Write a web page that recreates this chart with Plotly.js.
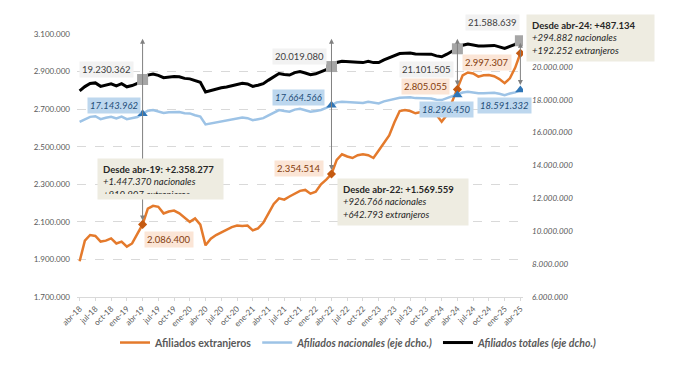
<!DOCTYPE html>
<html>
<head>
<meta charset="utf-8">
<script src="https://cdn.plot.ly/plotly-3.0.1.min.js"></script>
<style>html,body{margin:0;padding:0;background:#fff;}#chart{width:683px;height:374px;}</style>
</head>
<body>
<div id="chart"></div>
<script>
// ---- Data ----
const mesesNombres = ['ene','feb','mar','abr','may','jun','jul','ago','sep','oct','nov','dic'];
// categories: abr-18 .. abr-25 (monthly)
const categorias = [];
for (let k = 0; k < 85; k++) {
  const m = (3 + k) % 12;
  const y = 18 + Math.floor((3 + k) / 12);
  categorias.push(mesesNombres[m] + '-' + y);
}
const tickLabels = ['abr-18','jul-18','oct-18','ene-19','abr-19','jul-19','oct-19','ene-20','abr-20','jul-20','oct-20','ene-21','abr-21','jul-21','oct-21','ene-22','abr-22','jul-22','oct-22','ene-23','abr-23','jul-23','oct-23','ene-24','abr-24','jul-24','oct-24','ene-25','abr-25'];

const extranjeros = [1890000, 2000000, 2030000, 2025000, 1995000, 2000000, 2012000, 1985000, 1995000, 1968000, 1985000, 2040000, 2086400,
  2170000, 2185000, 2180000, 2145000, 2155000, 2160000, 2145000, 2120000, 2100000, 2118000, 2085000,
  1975000, 2010000, 2030000, 2045000, 2060000, 2072000, 2080000, 2078000, 2080000, 2055000, 2065000, 2095000,
  2145000, 2195000, 2225000, 2218000, 2235000, 2250000, 2265000, 2270000, 2250000, 2260000, 2300000, 2325000,
  2354514, 2430000, 2460000, 2448000, 2440000, 2455000, 2460000, 2455000, 2440000, 2480000, 2520000, 2560000,
  2630000, 2690000, 2695000, 2690000, 2678000, 2686000, 2690000, 2695000, 2670000, 2633000, 2670000, 2740000,
  2805055, 2880000, 2895000, 2890000, 2873000, 2880000, 2882000, 2875000, 2860000, 2838000, 2864000, 2920000, 2997307];

const nacionales = [16650000, 16800000, 16960000, 17000000, 16820000, 16900000, 16960000, 16860000, 16980000, 16820000, 16880000, 16950000, 17143962,
  17330000, 17380000, 17300000, 17200000, 17240000, 17250000, 17250000, 17180000, 17170000, 17060000, 16980000,
  16500000, 16560000, 16620000, 16680000, 16720000, 16780000, 16850000, 16920000, 16880000, 16760000, 16820000, 16880000,
  17050000, 17220000, 17370000, 17320000, 17270000, 17400000, 17450000, 17360000, 17270000, 17320000, 17380000, 17500000,
  17664566, 17840000, 17880000, 17860000, 17880000, 17820000, 17800000, 17880000, 17820000, 17780000, 17900000, 17980000,
  18060000, 18120000, 18140000, 18150000, 18100000, 18080000, 18080000, 18080000, 18000000, 17980000, 18100000, 18200000,
  18296450, 18440000, 18490000, 18430000, 18400000, 18390000, 18420000, 18430000, 18360000, 18280000, 18380000, 18450000, 18591332];

const totales = [18540000, 18800000, 18990000, 19025000, 18815000, 18900000, 18972000, 18845000, 18975000, 18788000, 18865000, 18990000, 19230362,
  19500000, 19565000, 19480000, 19345000, 19395000, 19410000, 19395000, 19300000, 19270000, 19178000, 19065000,
  18475000, 18570000, 18650000, 18725000, 18780000, 18852000, 18930000, 18998000, 18960000, 18815000, 18885000, 18975000,
  19195000, 19415000, 19595000, 19538000, 19505000, 19650000, 19715000, 19630000, 19520000, 19580000, 19680000, 19825000,
  20019080, 20270000, 20340000, 20308000, 20320000, 20275000, 20260000, 20335000, 20260000, 20260000, 20420000, 20540000,
  20690000, 20810000, 20835000, 20840000, 20778000, 20766000, 20770000, 20775000, 20670000, 20613000, 20770000, 20940000,
  21101505, 21320000, 21385000, 21320000, 21273000, 21270000, 21302000, 21305000, 21220000, 21118000, 21244000, 21370000, 21588639];

const hitos = ['abr-19', 'abr-22', 'abr-24', 'abr-25'];
const leftTicks = [1700000, 1900000, 2100000, 2300000, 2500000, 2700000, 2900000, 3100000];
const rightTicks = [6000000, 8000000, 10000000, 12000000, 14000000, 16000000, 18000000, 20000000];

// ---- Helpers ----
const fmt = n => String(n).replace(/\B(?=(\d{3})+(?!\d))/g, '.');
const hi = hitos.map(c => categorias.indexOf(c));
const last = hi[3];
const FONT = 'Lato, "Open Sans", sans-serif';

const traces = [
  {x: categorias, y: extranjeros, type: 'scatter', mode: 'lines', name: '<b>Afiliados extranjeros</b>',
   line: {color: '#E47A2C', width: 2.5}, yaxis: 'y'},
  {x: categorias, y: nacionales, type: 'scatter', mode: 'lines', name: '<b><i>Afiliados nacionales (eje dcho.)</i></b>',
   line: {color: '#9DC3E6', width: 2.5}, yaxis: 'y2'},
  {x: categorias, y: totales, type: 'scatter', mode: 'lines', name: '<b><i>Afiliados totales (eje dcho.)</i></b>',
   line: {color: '#000000', width: 3}, yaxis: 'y2'},
  {x: hitos, y: hi.map(i => totales[i]), type: 'scatter', mode: 'markers', showlegend: false, yaxis: 'y2',
   marker: {symbol: 'square', size: 11, color: '#A6A6A6'}},
  {x: hitos, y: hi.map(i => nacionales[i]), type: 'scatter', mode: 'markers', showlegend: false, yaxis: 'y2',
   marker: {symbol: 'triangle-up', size: 9, color: '#2E75B6'}},
  {x: hitos, y: hi.map(i => extranjeros[i]), type: 'scatter', mode: 'markers', showlegend: false, yaxis: 'y',
   marker: {symbol: 'diamond', size: 7, color: '#C55A11'}}
];

const annotations = [];
// vertical arrows
for (let k = 0; k < 3; k++) {
  const i = hi[k];
  annotations.push({x: categorias[i], y: extranjeros[i], xref: 'x', yref: 'y', ax: 0, ay: 3085000, ayref: 'y',
    text: ' ', font: {size: 1}, showarrow: true, arrowside: 'end+start', arrowhead: 2, startarrowhead: 2,
    arrowsize: 1, startarrowsize: 1, arrowwidth: 1, arrowcolor: '#808080', standoff: 4, startstandoff: 0});
}
annotations.push({x: categorias[last], y: nacionales[last], xref: 'x', yref: 'y2', ax: 0, ay: totales[last], ayref: 'y2',
  text: ' ', font: {size: 1}, showarrow: true, arrowside: 'end+start', arrowhead: 2, startarrowhead: 2,
  arrowsize: 1, startarrowsize: 1, arrowwidth: 1, arrowcolor: '#808080', standoff: 5, startstandoff: 0});

// value labels (paper positions)
const labelPos = {
  tot: [[106.5, 70], [299, 56], [426, 70], [492, 23]],
  nac: [[114, 105], [298.5, 97.5], [446, 109], [504, 105]],
  ext: [[169, 239.5], [298.5, 168.5], [425, 86], [487, 62]]
};
const px2x = p => (p - 77) / 446;
const px2y = p => (297 - p) / 263;
const styles = {
  tot: {bg: '#F2F2F2', col: '#404040', st: 'normal', arr: totales},
  nac: {bg: '#BDD7EE', col: '#1F4E79', st: 'italic', arr: nacionales},
  ext: {bg: '#FBE5D6', col: '#843C0C', st: 'normal', arr: extranjeros}
};
for (const key of ['tot', 'nac', 'ext']) {
  hi.forEach((i, k) => {
    const s = styles[key];
    const [px, py] = labelPos[key][k];
    annotations.push({xref: 'paper', yref: 'paper', x: px2x(px), y: px2y(py), xanchor: 'center', yanchor: 'middle',
      text: fmt(s.arr[i]), showarrow: false, bgcolor: s.bg, borderpad: 2,
      font: {family: FONT, size: 9.5, color: s.col, style: s.st}});
  });
}

// summary boxes
function boxText(i) {
  return '<b>Desde ' + categorias[i] + ': +' + fmt(totales[last] - totales[i]) + '</b><br>' +
    '<i>+' + fmt(nacionales[last] - nacionales[i]) + ' nacionales</i><br>' +
    '<i>+' + fmt(extranjeros[last] - extranjeros[i]) + ' extranjeros</i>';
}
const boxes = [
  {i: hi[0], left: 97, top: 158, w: 115, h: 30},
  {i: hi[1], left: 337, top: 178, w: 120, h: null},
  {i: hi[2], left: 526, top: 14, w: 117, h: null}
];
boxes.forEach(b => {
  const a = {xref: 'paper', yref: 'paper', x: px2x(b.left), y: px2y(b.top), xanchor: 'left', yanchor: 'top',
    text: boxText(b.i), showarrow: false, align: 'left', valign: 'top', bgcolor: '#EEECE1', borderpad: 5,
    width: b.w, font: {family: FONT, size: 9.5, color: '#262626'}};
  if (b.h) a.height = b.h;
  annotations.push(a);
});

const layout = {
  width: 683, height: 374,
  margin: {l: 77, r: 160, t: 34, b: 77},
  paper_bgcolor: '#ffffff', plot_bgcolor: '#ffffff',
  separators: ',.',
  font: {family: FONT, color: '#595959'},
  showlegend: true,
  legend: {orientation: 'h', x: (602 - 77) / 446, xanchor: 'right', y: -0.118, yanchor: 'top',
    font: {family: FONT, size: 10.5, color: '#595959'}, itemwidth: 30, bgcolor: 'rgba(0,0,0,0)'},
  xaxis: {type: 'category', categoryorder: 'array', categoryarray: categorias, range: [-0.5, 84.5],
    tickvals: tickLabels, ticktext: tickLabels, tickangle: -45, tickfont: {family: FONT, size: 8, color: '#595959'},
    showgrid: false, showline: true, linecolor: '#D9D9D9', linewidth: 1, ticks: 'outside', ticklen: 3, tickcolor: '#D9D9D9',
    zeroline: false},
  yaxis: {range: [1700000, 3100000], tickvals: leftTicks, tickformat: ',d', showgrid: true, gridcolor: '#D9D9D9',
    griddash: 'dash', gridwidth: 1, showline: false, zeroline: false, ticks: '', ticklabelstandoff: 6,
    tickfont: {family: FONT, size: 8, color: '#595959'}},
  yaxis2: {overlaying: 'y', side: 'right', range: [6000000, 22000000], tickvals: rightTicks, tickformat: ',d',
    showgrid: false, showline: false, zeroline: false, ticks: '', ticklabelstandoff: 8,
    tickfont: {family: FONT, size: 8, color: '#595959', style: 'italic'}},
  annotations: annotations
};

Plotly.newPlot('chart', traces, layout, {displayModeBar: false, staticPlot: true});
</script>
</body>
</html>
